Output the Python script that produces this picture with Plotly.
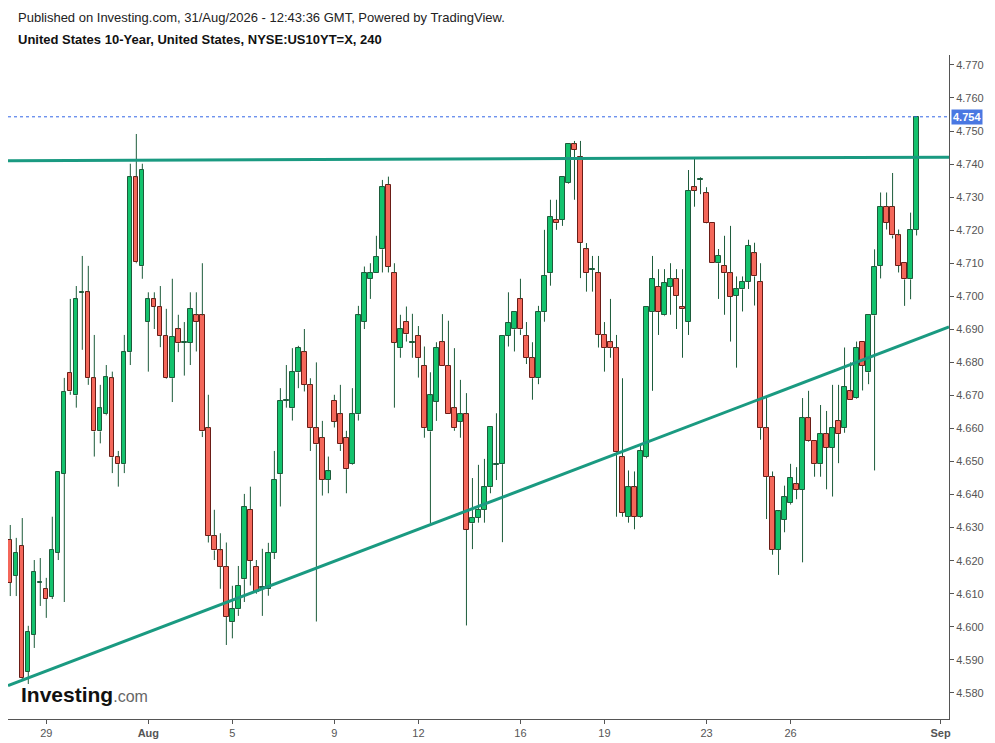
import plotly.graph_objects as go

# 4h candles, US 10Y yield, Jul 28 -> Aug 31 (bar index on x, weekends skipped)
opens = [4.6263, 4.6154, 4.6245, 4.5864, 4.5975, 4.6133, 4.6115, 4.6090, 4.6224, 4.6463,
         4.6769, 4.6700, 4.7012, 4.7012, 4.6752, 4.6591, 4.6643, 4.6752, 4.6513, 4.6492,
         4.6831, 4.7360, 4.7091, 4.6922, 4.6991, 4.6969, 4.6881, 4.6752, 4.6900, 4.6860,
         4.6860, 4.6942, 4.6942, 4.6601, 4.6275, 4.6231, 4.6182, 4.6014, 4.6053, 4.6144,
         4.6354, 4.6182, 4.6120, 4.6114, 4.6223, 4.6462, 4.6684, 4.6661, 4.6770, 4.6831,
         4.6732, 4.6601, 4.6571, 4.6444, 4.6684, 4.6643, 4.6571, 4.6492, 4.6643, 4.6922,
         4.7052, 4.7070, 4.7142, 4.7337, 4.7070, 4.6843, 4.6922, 4.6860, 4.6881, 4.6790,
         4.6591, 4.6681, 4.6861, 4.6790, 4.6661, 4.6621, 4.6643, 4.6313, 4.6330, 4.6354,
         4.6422, 4.6492, 4.6492, 4.6881, 4.6900, 4.6991, 4.6881, 4.6813, 4.6752, 4.6952,
         4.7070, 4.7231, 4.7231, 4.7342, 4.7460, 4.7421, 4.7142, 4.7082, 4.7070, 4.6883,
         4.6861, 4.6843, 4.6513, 4.6332, 4.6422, 4.6332, 4.6513, 4.6952, 4.7029, 4.6942,
         4.7029, 4.7052, 4.6969, 4.6922, 4.7330, 4.7352, 4.7312, 4.7221, 4.7100, 4.7092,
         4.7070, 4.7001, 4.7021, 4.7043, 4.7130, 4.7043, 4.6601, 4.6453, 4.6233, 4.6323,
         4.6374, 4.6431, 4.6414, 4.6631, 4.6562, 4.6492, 4.6583, 4.6542, 4.6623, 4.6601,
         4.6712, 4.6692, 4.6861, 4.6770, 4.6942, 4.7092, 4.7271, 4.7271, 4.7184, 4.7100,
         4.7051, 4.7202]
highs = [4.6308, 4.6269, 4.6329, 4.6003, 4.6202, 4.6208, 4.6148, 4.6333, 4.6470, 4.6753,
         4.6992, 4.7031, 4.7122, 4.7092, 4.6883, 4.6732, 4.6792, 4.6772, 4.6532, 4.6883,
         4.7401, 4.7491, 4.7401, 4.7012, 4.7012, 4.7031, 4.6962, 4.7053, 4.6944, 4.6922,
         4.7012, 4.7012, 4.7100, 4.6702, 4.6354, 4.6283, 4.6255, 4.6124, 4.6184, 4.6402,
         4.6424, 4.6202, 4.6236, 4.6254, 4.6532, 4.6722, 4.6792, 4.6843, 4.6850, 4.6901,
         4.6752, 4.6800, 4.6623, 4.6515, 4.6702, 4.6732, 4.6593, 4.6722, 4.6971, 4.7090,
         4.7100, 4.7183, 4.7352, 4.7362, 4.7100, 4.6944, 4.6969, 4.6947, 4.6910, 4.6848,
         4.6770, 4.6861, 4.6946, 4.6926, 4.6843, 4.6747, 4.6707, 4.6450, 4.6490, 4.6508,
         4.6606, 4.6646, 4.6881, 4.7012, 4.6952, 4.7053, 4.6922, 4.6861, 4.6971, 4.7201,
         4.7292, 4.7292, 4.7360, 4.7460, 4.7470, 4.7470, 4.7161, 4.7122, 4.7122, 4.6922,
         4.6992, 4.6883, 4.6752, 4.6473, 4.6470, 4.6548, 4.6970, 4.7122, 4.7082, 4.7082,
         4.7100, 4.7082, 4.7082, 4.7382, 4.7421, 4.7360, 4.7330, 4.7221, 4.7143, 4.7183,
         4.7213, 4.7060, 4.7060, 4.7171, 4.7162, 4.7100, 4.6692, 4.6470, 4.6350, 4.6427,
         4.6493, 4.6483, 4.6692, 4.6714, 4.6562, 4.6671, 4.6653, 4.6732, 4.6732, 4.6845,
         4.6800, 4.6863, 4.6861, 4.6942, 4.7142, 4.7314, 4.7314, 4.7373, 4.7202, 4.7100,
         4.7253, 4.7543]
lows = [4.6093, 4.6093, 4.5840, 4.5827, 4.5936, 4.6063, 4.6027, 4.6084, 4.6202, 4.6075,
        4.6702, 4.6663, 4.6838, 4.6732, 4.6515, 4.6555, 4.6640, 4.6465, 4.6424, 4.6465,
        4.6792, 4.7100, 4.7053, 4.6772, 4.6901, 4.6846, 4.6750, 4.6680, 4.6831, 4.6760,
        4.6792, 4.6833, 4.6574, 4.6255, 4.6202, 4.6115, 4.5945, 4.5965, 4.6033, 4.6075,
        4.6125, 4.6100, 4.6033, 4.6094, 4.6205, 4.6364, 4.6663, 4.6624, 4.6722, 4.6712,
        4.6532, 4.6016, 4.6397, 4.6404, 4.6603, 4.6532, 4.6404, 4.6490, 4.6624, 4.6901,
        4.6992, 4.7070, 4.7072, 4.7072, 4.6663, 4.6814, 4.6863, 4.6814, 4.6754, 4.6572,
        4.6313, 4.6623, 4.6790, 4.6643, 4.6593, 4.6572, 4.6004, 4.6235, 4.6315, 4.6315,
        4.6404, 4.6444, 4.6256, 4.6848, 4.6833, 4.6883, 4.6795, 4.6687, 4.6734, 4.6923,
        4.7032, 4.7201, 4.7213, 4.7340, 4.7292, 4.7055, 4.7014, 4.7014, 4.6845, 4.6772,
        4.6814, 4.6333, 4.6333, 4.6315, 4.6295, 4.6330, 4.6510, 4.6714, 4.6883, 4.6940,
        4.6944, 4.6901, 4.6814, 4.6883, 4.7271, 4.7309, 4.7220, 4.7100, 4.6992, 4.6944,
        4.6863, 4.6784, 4.6954, 4.7022, 4.6972, 4.6566, 4.6326, 4.6218, 4.6157, 4.6286,
        4.6370, 4.6386, 4.6195, 4.6560, 4.6454, 4.6454, 4.6416, 4.6394, 4.6495, 4.6587,
        4.6687, 4.6690, 4.6715, 4.6734, 4.6473, 4.7054, 4.7202, 4.7175, 4.7072, 4.6971,
        4.6991, 4.7184]
closes = [4.6133, 4.6224, 4.5845, 4.5985, 4.6166, 4.6133, 4.6084, 4.6233, 4.6469, 4.6711,
          4.6712, 4.6991, 4.7012, 4.6752, 4.6591, 4.6661, 4.6755, 4.6513, 4.6492, 4.6831,
          4.7360, 4.7103, 4.7382, 4.6991, 4.6969, 4.6881, 4.6752, 4.6878, 4.6858, 4.6860,
          4.6961, 4.6922, 4.6591, 4.6275, 4.6231, 4.6182, 4.6031, 4.6053, 4.6124, 4.6362,
          4.6200, 4.6106, 4.6120, 4.6223, 4.6444, 4.6684, 4.6684, 4.6770, 4.6843, 4.6732,
          4.6601, 4.6552, 4.6444, 4.6470, 4.6621, 4.6552, 4.6477, 4.6643, 4.6942, 4.7070,
          4.7070, 4.7120, 4.7330, 4.7090, 4.6860, 4.6900, 4.6885, 4.6860, 4.6813, 4.6601,
          4.6700, 4.6843, 4.6790, 4.6643, 4.6601, 4.6643, 4.6293, 4.6330, 4.6354, 4.6422,
          4.6606, 4.6492, 4.6881, 4.6920, 4.6952, 4.6900, 4.6813, 4.6752, 4.6952, 4.7062,
          4.7239, 4.7221, 4.7360, 4.7460, 4.7443, 4.7161, 4.7070, 4.7082, 4.6883, 4.6843,
          4.6843, 4.6528, 4.6344, 4.6422, 4.6332, 4.6532, 4.6969, 4.7052, 4.6952, 4.7041,
          4.7052, 4.7002, 4.6961, 4.7320, 4.7320, 4.7352, 4.7221, 4.7100, 4.7122, 4.7070,
          4.6999, 4.7021, 4.7043, 4.7152, 4.7060, 4.6601, 4.6453, 4.6233, 4.6349, 4.6392,
          4.6450, 4.6414, 4.6631, 4.6562, 4.6492, 4.6583, 4.6542, 4.6601, 4.6583, 4.6725,
          4.6687, 4.6843, 4.6790, 4.6942, 4.7090, 4.7271, 4.7222, 4.7184, 4.7092, 4.7051,
          4.7202, 4.7543]

# x axis labels (bar index where the day starts)
tick_pos = [6, 23, 37, 54, 68, 85, 99, 116, 130, 155]
tick_txt = ["29", "<b>Aug</b>", "5", "9", "12", "16", "19", "23", "26", "<b>Sep</b>"]

# hand drawn trend lines (bar index, yield)
line_x = [-0.38, 156.4]
resistance_y = [4.7410, 4.7421]
support_y = [4.5822, 4.6907]

n = len(opens)
idx = list(range(n))

GREEN = "#13c26d"
RED = "#f4675a"
GREEN_EDGE = "#1d5c3b"
RED_EDGE = "#6b1c16"
WICK = "#1d5c3b"
TEAL = "#1a9a81"

# wicks drawn above and below the body so they don't cross it
wx, wy = [], []
for i in idx:
    top = max(opens[i], closes[i])
    bot = min(opens[i], closes[i])
    wx += [i, i, None, i, i, None]
    wy += [top, highs[i], None, lows[i], bot, None]

body_base, body_h, fill, edge = [], [], [], []
for i in idx:
    bot = min(opens[i], closes[i])
    h = abs(closes[i] - opens[i])
    body_base.append(bot if h >= 0.0003 else bot - 0.00015)
    body_h.append(max(h, 0.0003))
    up = closes[i] >= opens[i]
    fill.append(GREEN if up else RED)
    edge.append(GREEN_EDGE if up else RED_EDGE)

fig = go.Figure()
fig.add_trace(go.Scatter(x=wx, y=wy, mode="lines", line=dict(color=WICK, width=1),
                         hoverinfo="skip", showlegend=False))
fig.add_trace(go.Bar(x=idx, y=body_h, base=body_base, width=0.72,
                     marker=dict(color=fill, line=dict(color=edge, width=1)),
                     showlegend=False))
fig.add_trace(go.Scatter(x=line_x, y=resistance_y, mode="lines",
                         line=dict(color=TEAL, width=3), hoverinfo="skip", showlegend=False))
fig.add_trace(go.Scatter(x=line_x, y=support_y, mode="lines",
                         line=dict(color=TEAL, width=3), hoverinfo="skip", showlegend=False))

last = closes[-1]
fig.add_shape(type="line", xref="paper", x0=0, x1=1, y0=last, y1=last,
              line=dict(color="#3366e6", width=1, dash="dot"))

fig.add_annotation(xref="paper", x=1, y=last, xanchor="left", yanchor="middle",
                   text="<b>%.3f</b>" % last, showarrow=False, xshift=2,
                   font=dict(color="white", size=11), bgcolor="#4a78e2", borderpad=1)

fig.add_annotation(xref="paper", yref="paper", x=0.0085, y=1.057, xanchor="left",
                   yanchor="middle", showarrow=False,
                   text="Published on Investing.com, 31/Aug/2026 - 12:43:36 GMT, Powered by TradingView.",
                   font=dict(size=13, color="#222"))
fig.add_annotation(xref="paper", yref="paper", x=0.0085, y=1.0226, xanchor="left",
                   yanchor="middle", showarrow=False,
                   text="<b>United States 10-Year, United States, NYSE:US10YT=X, 240</b>",
                   font=dict(size=13, color="#111"))
fig.add_annotation(xref="paper", yref="paper", x=0.012, y=0.037, xanchor="left",
                   yanchor="middle", showarrow=False,
                   text="<b>Investing</b><span style='color:#666;font-size:16px'>.com</span>",
                   font=dict(size=21, color="#111"))

# the page body adds an 8px margin, so the figure is 8px smaller and shifted
fig.update_layout(
    width=987, height=735,
    margin=dict(l=0, r=46, t=47, b=24),
    paper_bgcolor="white", plot_bgcolor="white",
    font=dict(family="Arial, Liberation Sans, sans-serif", color="#555"),
    bargap=0, showlegend=False,
    xaxis=dict(range=[-0.38, 156.4], tickvals=tick_pos, ticktext=tick_txt,
               showgrid=False, zeroline=False, showline=True, linecolor="#555",
               ticks="outside", ticklen=4, tickcolor="#555", tickfont=dict(size=11)),
    yaxis=dict(side="right", range=[4.5721, 4.7730], tick0=4.58, dtick=0.01,
               tickformat=".3f", showgrid=False, zeroline=False, showline=True,
               linecolor="#555", ticks="outside", ticklen=4, tickcolor="#555",
               tickfont=dict(size=11)),
)

fig.write_html("out.html")
